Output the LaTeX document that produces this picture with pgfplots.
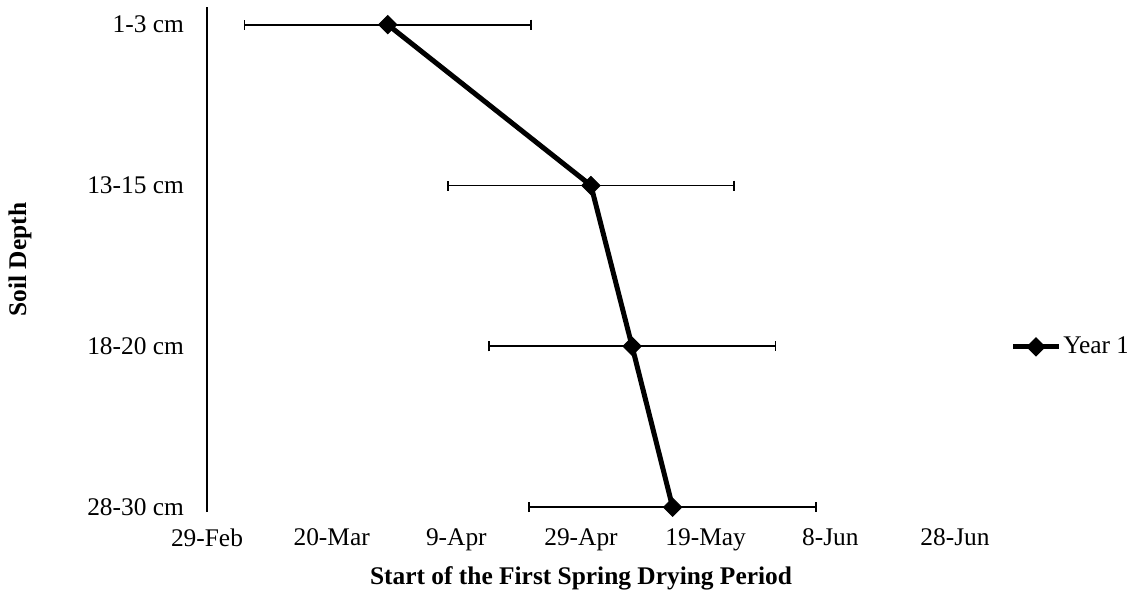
\documentclass[border=0pt]{standalone}
\usepackage{fontspec}
\setmainfont{Liberation Serif}
\usepackage{pgfplots}
\pgfplotsset{compat=1.18}
\begin{document}
\begin{tikzpicture}
\begin{axis}[name=ax, scale only axis, width=374pt, height=252.5pt,
  font=\fontsize{12.7pt}{15pt}\selectfont,
  xmin=0, xmax=120, ymin=-0.03, ymax=3.11,
  axis lines*=left,
  x axis line style={draw=none},
  y axis line style={-, line width=0.75pt, black},
  major tick length=0pt,
  xtick={0,20,40,60,80,100,120},
  xticklabels={29-Feb,20-Mar,9-Apr,29-Apr,19-May,8-Jun,28-Jun},
  ytick={0,1,2,3},
  yticklabels={28-30 cm,18-20 cm,13-15 cm,1-3 cm},
  yticklabel style={xshift=-8pt},
  xticklabel style={yshift=-5pt},
  xlabel={\textbf{Start of the First Spring Drying Period}},
  xlabel style={at={(axis description cs:0.5,-0.1307)}, anchor=center},
  ylabel={\textbf{Soil Depth}},
  ylabel style={at={(axis description cs:-0.25,0.5)}, anchor=center},
  legend style={at={(axis description cs:1.074,0.327)}, anchor=west, draw=none, fill=none,
    font=\fontsize{12.7pt}{15pt}\selectfont, inner sep=0pt, nodes={inner sep=1pt}},
  legend cell align=left,
  legend image code/.code={\draw[mark repeat=2,mark phase=2] plot coordinates {(0cm,0cm)(0.4cm,0cm)(0.8cm,0cm)};},
]
\addplot[draw=none, forget plot,
  error bars/.cd, x dir=both, x explicit,
  error bar style={draw=black, line width=0.9pt},
  error mark=|,
  error mark options={draw=black, solid, line width=0.9pt, mark size=2.5pt}]
  table[x=x, y=y, x error=e] {
x y e
29.0 3 23
61.6 2 23
68.2 1 23
74.7 0 23
};
\addplot[black, line width=2.5pt, mark=square*, mark size=3.2pt, mark options={rotate=45, solid, line width=0.5pt}]
  table[x=x, y=y] {
x y
29.0 3
61.6 2
68.2 1
74.7 0
};
\addlegendentry{Year 1}
\end{axis}
\pgfresetboundingbox
\path[use as bounding box] ([xshift=-103.5pt,yshift=-42pt]ax.south west) rectangle ([xshift=86pt,yshift=3.5pt]ax.north east);
\end{tikzpicture}
\end{document}
